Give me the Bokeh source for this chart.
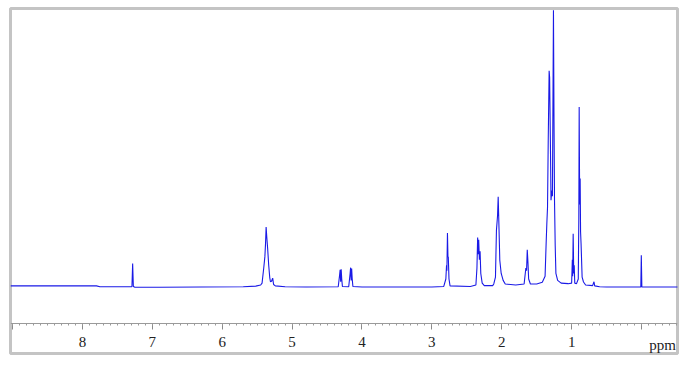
from bokeh.plotting import figure
from bokeh.models import Range1d, FixedTicker
from bokeh.core.properties import value
from bokeh.embed import file_html
from bokeh.resources import INLINE

# Spectrum trace: chemical shift (ppm) and relative intensity
ppm = [9.03, 7.80, 7.75, 7.30, 7.292, 7.282, 7.272, 7.25, 6.90, 5.70,
       5.52, 5.45, 5.43, 5.406, 5.39, 5.38, 5.372, 5.362, 5.35, 5.335,
       5.32, 5.31, 5.295, 5.278, 5.265, 5.24, 5.10, 4.80,
       4.34, 4.32, 4.313, 4.305, 4.298,
       4.29, 4.28, 4.19, 4.17, 4.163, 4.155, 4.148, 4.14, 4.13, 4.00,
       3.00, 2.83, 2.80, 2.79, 2.785, 2.777, 2.77, 2.765, 2.755, 2.74,
       2.45, 2.37, 2.355, 2.345, 2.337, 2.33, 2.32, 2.31, 2.30, 2.28,
       2.25, 2.13, 2.114, 2.09, 2.076, 2.06, 2.051, 2.04, 2.028, 2.008,
       1.98, 1.95, 1.80, 1.68, 1.655, 1.645, 1.635, 1.625, 1.615, 1.59, 1.50,
       1.42, 1.38, 1.365, 1.355, 1.345, 1.335, 1.322, 1.315, 1.305, 1.295,
       1.285, 1.275, 1.26, 1.252, 1.245, 1.235, 1.225, 1.20, 1.15, 1.05,
       1.00, 0.99, 0.985, 0.978, 0.97, 0.963, 0.955, 0.93, 0.905, 0.897,
       0.892, 0.885, 0.878, 0.872, 0.865, 0.85, 0.83, 0.80, 0.70, 0.68,
       0.67, 0.60, 0.50, 0.01, 0.003, -0.005, -0.52]
intensity = [0.5, 0.5, 0.2, 0.2, 0.3, 8.6, 0.3, 0.0, 0.0, 0.2,
             0.4, 0.8, 1.5, 7.0, 11.0, 16.0, 21.8, 18.0, 14.0, 8.0,
             3.5, 2.0, 2.2, 3.3, 1.0, 0.5, 0.2, 0.1,
             0.2, 4.5, 6.3, 2.0, 6.5,
             3.0, 0.3, 0.2, 5.0, 7.1, 2.5, 6.8, 3.0, 0.3, 0.1,
             0.1, 0.3, 3.0, 8.0, 6.0, 19.7, 11.0, 11.0, 3.0, 0.5,
             0.3, 0.8, 7.0, 18.0, 12.0, 17.2, 10.0, 13.0, 5.0, 1.5,
             0.6, 0.6, 1.2, 3.7, 20.6, 26.0, 32.8, 22.0, 9.8, 5.0,
             2.5, 1.2, 0.8, 1.2, 7.0, 6.0, 13.6, 9.0, 3.0, 1.2, 1.2,
             1.8, 4.0, 15.8, 23.0, 29.0, 53.0, 78.4, 76.0, 55.0, 31.5,
             35.0, 33.0, 100.4, 60.0, 31.5, 15.0, 5.0, 2.5, 1.5, 1.3,
             1.5, 10.0, 4.0, 19.4, 5.0, 8.0, 1.5, 1.3, 3.0, 25.0,
             65.3, 30.0, 39.4, 20.0, 15.8, 3.7, 1.9, 0.8, 0.6, 2.0,
             0.5, 0.2, 0.1, 0.1, 11.6, 0.1, 0.1]

major_ticks = [9, 8, 7, 6, 5, 4, 3, 2, 1, 0]
tick_labels = {9: "", 8: "8", 7: "7", 6: "6", 5: "5", 4: "4",
               3: "3", 2: "2", 1: "1", 0: ""}
unit_label = "ppm"

SERIF = "'Liberation Serif', 'Times New Roman', serif"

p = figure(width=689, height=366, output_backend="svg", toolbar_location=None,
           x_range=Range1d(9.03, -0.515), y_range=Range1d(-24, 101),
           y_axis_location=None, min_border_left=10, min_border_right=12,
           min_border_top=8, min_border_bottom=13)
p.background_fill_color = "white"
p.border_fill_color = "white"
p.outline_line_color = "#c4c4c4"
p.outline_line_width = 3
p.grid.visible = False

p.line(ppm, intensity, line_color="#1a1ae6", line_width=1.1)

ax = p.xaxis[0]
ax.fixed_location = -13
ax.ticker = FixedTicker(ticks=major_ticks,
                        minor_ticks=[round(-0.5 + 0.1 * i, 2) for i in range(96)])
ax.major_label_overrides = tick_labels
ax.axis_line_color = "#9a9a9a"
ax.axis_line_width = 1
ax.major_tick_line_color = "#8a8a8a"
ax.minor_tick_line_color = "#9a9a9a"
ax.major_tick_out = 6
ax.major_tick_in = 0
ax.minor_tick_out = 2
ax.minor_tick_in = 0
ax.major_label_standoff = 8
ax.major_label_text_font = SERIF
ax.major_label_text_font_size = "15px"
ax.major_label_text_color = "#222222"

p.text(x=[-0.30], y=[-21.0], text=[unit_label], text_font=value(SERIF),
       text_font_size="15px", text_color="#222222", text_align="center",
       text_baseline="middle")

open("out.html", "w").write(file_html(p, INLINE))
